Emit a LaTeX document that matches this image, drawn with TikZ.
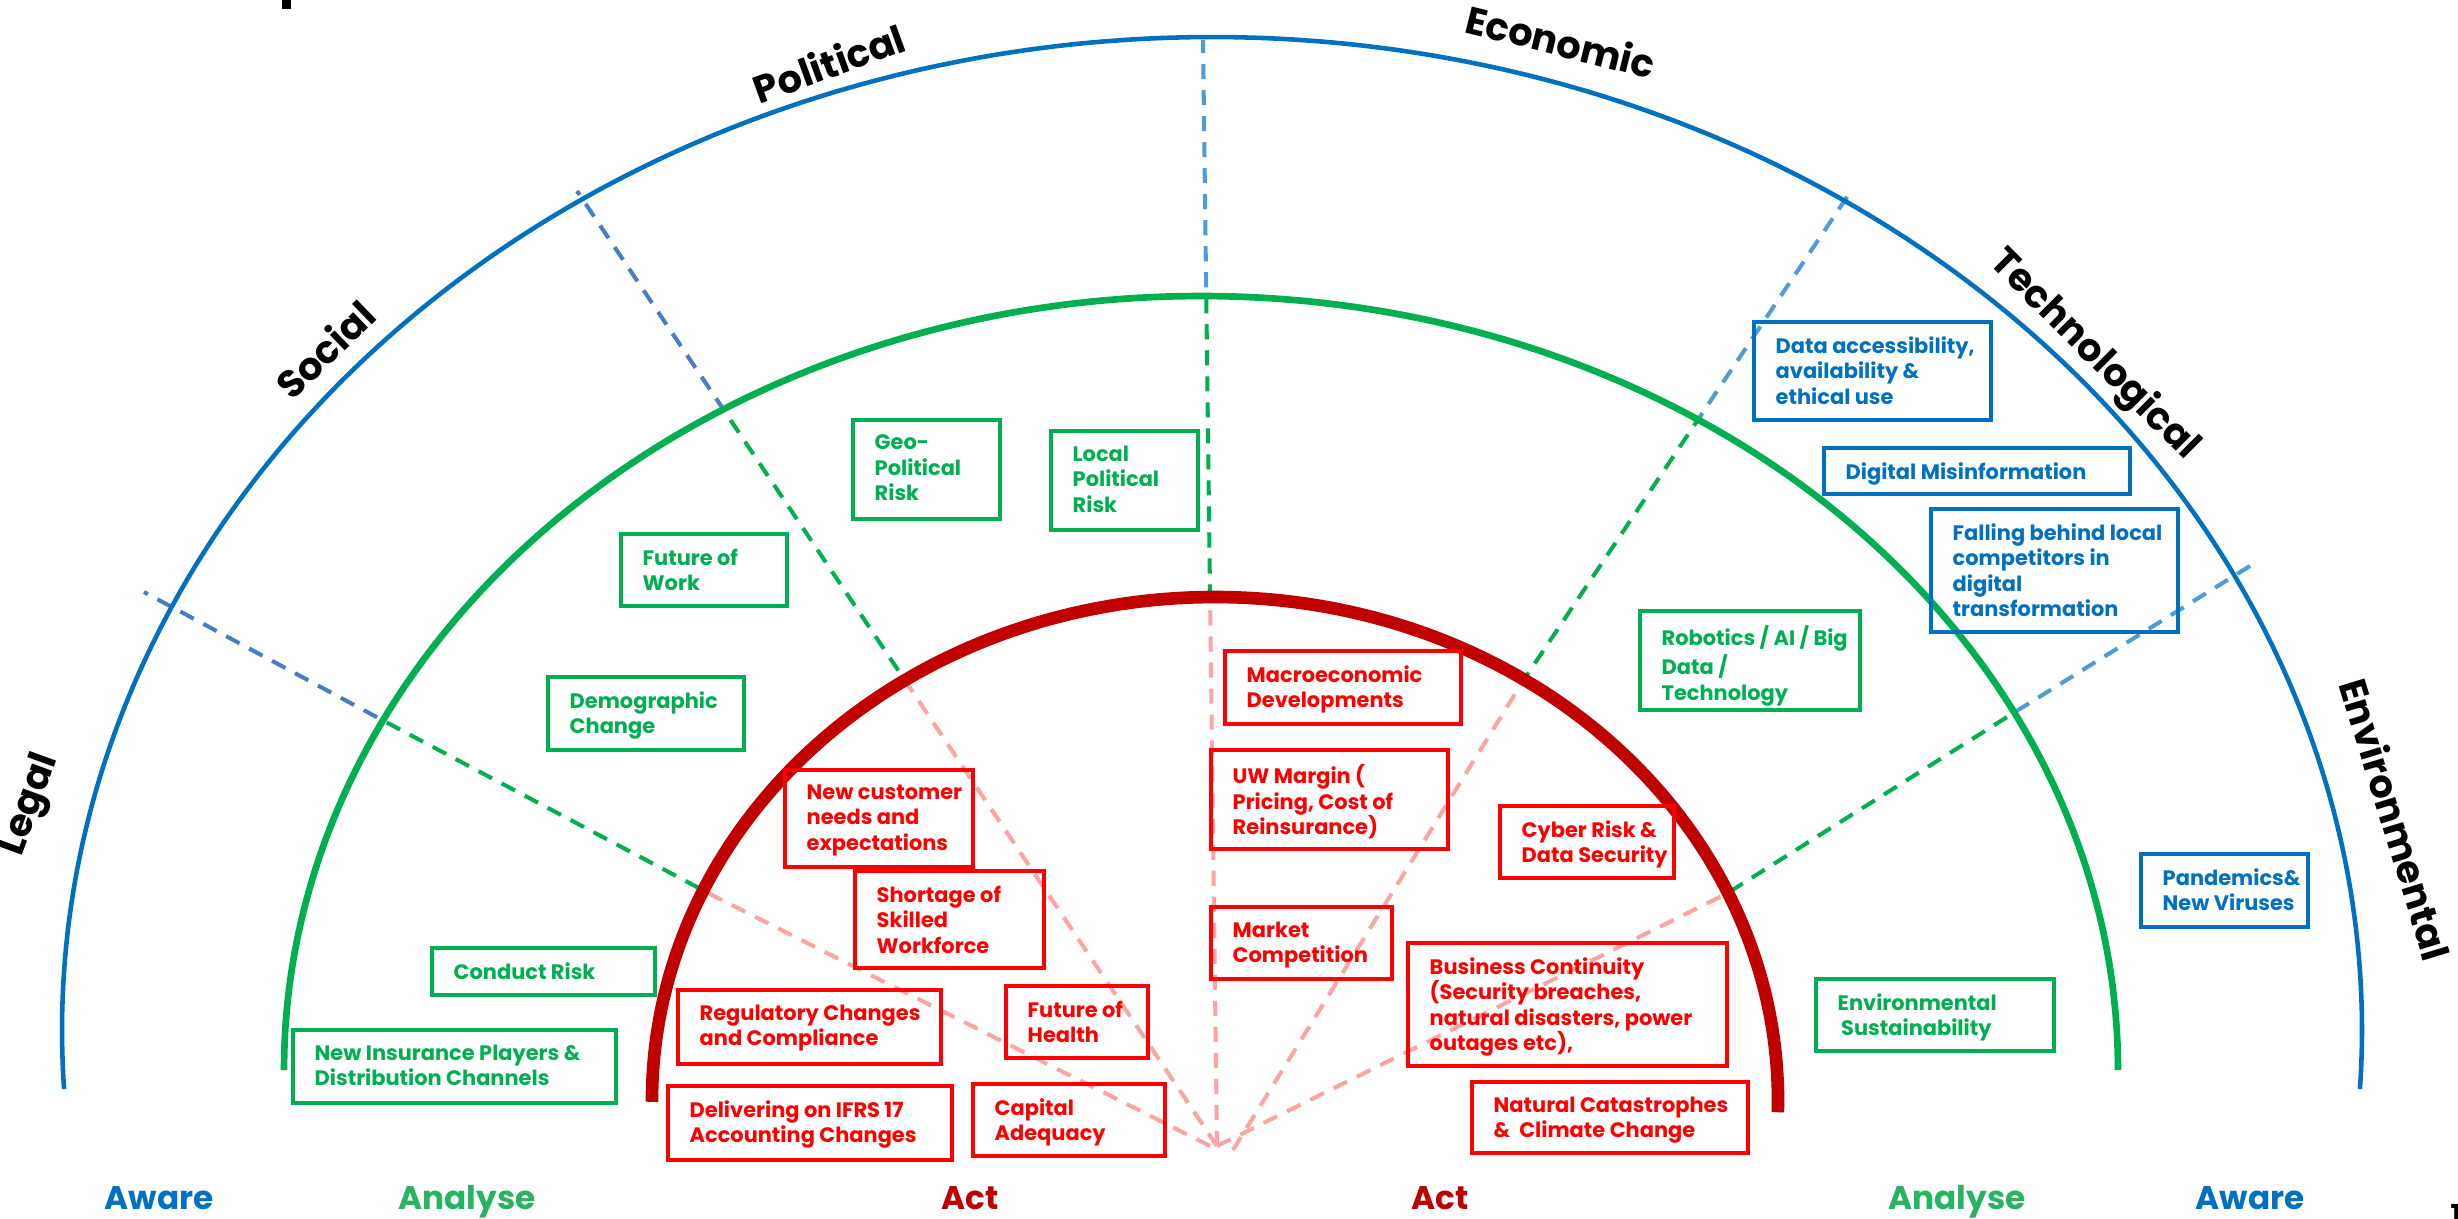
\documentclass[tikz,border=0pt]{standalone}
\usepackage{fontspec}
\setmainfont{Poppins}
\newfontfamily\semibold{Poppins SemiBold}
\newfontfamily\popbold{Poppins Bold}
\definecolor{cblue}{HTML}{0070C0}
\definecolor{cgreen}{HTML}{00B050}
\definecolor{cdred}{HTML}{C00000}
\definecolor{cred}{HTML}{FF0000}
\definecolor{cpink}{HTML}{FFA3A3}
\definecolor{cdashdark}{HTML}{4A7CC0}
\definecolor{cdashlight}{HTML}{4F9AD8}
\definecolor{canalyse}{RGB}{38,180,96}
\tikzset{
  redframe/.style={draw=cred,line width=1.2pt},
  greenframe/.style={draw=cgreen,line width=1.2pt},
  blueframe/.style={draw=cblue,line width=1.2pt},
  boxtext/.style={anchor=north west,inner sep=0pt,align=left,font=\popbold\fontsize{5.95}{7.25}\selectfont},
  redlabel/.style={boxtext,text=cred},
  greenlabel/.style={boxtext,text=cgreen},
  bluelabel/.style={boxtext,text=cblue},
  divider/.style={line width=1.15pt,dash pattern=on 4.3pt off 3.1pt},
  catlabel/.style={inner sep=0pt,font=\popbold\fontsize{10.9}{13}\selectfont,text=black},
  ringlabel/.style={anchor=base,inner sep=0pt,font=\popbold\fontsize{9.3}{11}\selectfont},
}
\newcommand{\riskbox}[7]{%
  \draw[#2frame] (#3,#4) rectangle (#5,#6);
  \node[#2label] (#1) at (#3+21,#4+14) {#7};}
\begin{document}
\begin{tikzpicture}[x=0.01cm,y=-0.01cm]
\useasboundingbox (0,0) rectangle (2458,1218);
% divider points
\coordinate (P1) at (1210,1146); \coordinate (R1) at (712,895); \coordinate (G1) at (384,721); \coordinate (O1) at (144,592);
\coordinate (P2) at (1217,1146); \coordinate (O2) at (577,191);
\coordinate (P3) at (1217,1146); \coordinate (O3) at (1203,40);
\coordinate (P4) at (1233,1150); \coordinate (R4) at (1523,681); \coordinate (O4) at (1849,194);
\coordinate (P5) at (1217,1146); \coordinate (R5) at (1726,894); \coordinate (G5) at (2015,712); \coordinate (O5) at (2258,561);
% blue part of dividers (outside green ring)
\begin{scope}[even odd rule]
\clip (-200,-200) rectangle (2700,1500) plot[domain=0:360,samples=180] ({1201+917*cos(\x)},{1070+774*sin(\x)}) -- cycle;
\draw[divider,cdashdark] (P1) -- (R1) -- (G1) -- (O1);
\draw[divider,cdashdark] (P2) -- (O2);
\draw[divider,cdashlight] (P3) -- (O3);
\draw[divider,cdashlight] (P4) -- (R4) -- (O4);
\draw[divider,cdashlight] (P5) -- (R5) -- (G5) -- (O5);
\end{scope}
% green part (between red and green ring)
\begin{scope}
\clip plot[domain=0:360,samples=180] ({1201+917*cos(\x)},{1070+774*sin(\x)}) -- cycle;
\begin{scope}[even odd rule]
\clip (-200,-200) rectangle (2700,1500) plot[domain=0:360,samples=180] ({1215+563*cos(\x)},{1100+503*sin(\x)}) -- cycle;
\draw[divider,cgreen] (P1) -- (R1) -- (G1) -- (O1);
\draw[divider,cgreen] (P2) -- (O2);
\draw[divider,cgreen] (P3) -- (O3);
\draw[divider,cgreen] (P4) -- (R4) -- (O4);
\draw[divider,cgreen] (P5) -- (R5) -- (G5) -- (O5);
\end{scope}
\end{scope}
% pink part (inside red ring)
\begin{scope}
\clip plot[domain=0:360,samples=180] ({1215+563*cos(\x)},{1100+503*sin(\x)}) -- cycle;
\draw[divider,cpink] (P1) -- (R1) -- (G1) -- (O1);
\draw[divider,cpink] (P2) -- (O2);
\draw[divider,cpink] (P3) -- (O3);
\draw[divider,cpink] (P4) -- (R4) -- (O4);
\draw[divider,cpink] (P5) -- (R5) -- (G5) -- (O5);
\end{scope}
% rings
\draw[cblue,line width=1.3pt] plot[domain=176.6:363.4,samples=300] ({1212+1150*cos(\x)},{1030+993*sin(\x)});
\draw[cgreen,line width=1.9pt] plot[domain=180:360,samples=300] ({1201+917*cos(\x)},{1070+774*sin(\x)});
\draw[cdred,line width=3.6pt] plot[domain=179.8:361.4,samples=300] ({1215+563*cos(\x)},{1100+503*sin(\x)});
% blue boxes
\riskbox{dataacc}{blue}{1754}{322}{1991}{420}{Data accessibility,\\availability \&\\ethical use}
\riskbox{digmis}{blue}{1824}{448}{2130}{494}{Digital Misinformation}
\riskbox{falling}{blue}{1931}{509}{2178}{632}{Falling behind local\\competitors in\\digital\\transformation}
\riskbox{pandemic}{blue}{2141}{854}{2308}{927}{Pandemics\&\\New Viruses}
% green boxes
\riskbox{geopol}{green}{853}{420}{1000}{519}{Geo-\\Political\\Risk}
\riskbox{localpol}{green}{1051}{431}{1198}{530}{Local\\Political\\Risk}
\riskbox{futwork}{green}{621}{534}{787}{606}{Future of\\Work}
\riskbox{demo}{green}{548}{677}{744}{750}{Demographic\\Change}
\riskbox{conduct}{green}{432}{948}{655}{995}{Conduct Risk}
\riskbox{newins}{green}{293}{1030}{616}{1103}{New Insurance Players \&\\Distribution Channels}
\riskbox{robotics}{green}{1640}{611}{1860}{710}{Robotics / AI / Big\\Data /\\Technology}
\riskbox{envsus}{green}{1816}{979}{2054}{1051}{Environmental\\\hspace*{1pt}Sustainability}
% red boxes
\riskbox{macro}{red}{1225}{651}{1461}{724}{Macroeconomic\\Developments}
\riskbox{uwmargin}{red}{1211}{750}{1448}{849}{UW Margin (\\Pricing, Cost of\\Reinsurance)}
\riskbox{market}{red}{1211}{907}{1392}{979}{Market\\Competition}
\riskbox{cyber}{red}{1500}{806}{1674}{878}{Cyber Risk \&\\Data Security}
\riskbox{buscont}{red}{1408}{943}{1727}{1066}{Business Continuity\\(Security breaches,\\natural disasters, power\\outages etc),}
\riskbox{natcat}{red}{1472}{1082}{1748}{1153}{Natural Catastrophes\\\&\ \ Climate Change}
\riskbox{newcust}{red}{785}{770}{973}{867}{New customer\\needs and\\expectations}
\riskbox{shortage}{red}{855}{871}{1044}{968}{Shortage of\\Skilled\\Workforce}
\riskbox{regul}{red}{678}{990}{941}{1064}{Regulatory Changes\\and Compliance}
\riskbox{futhealth}{red}{1006}{986}{1148}{1058}{Future of\\Health}
\riskbox{ifrs}{red}{668}{1086}{952}{1160}{Delivering on IFRS 17\\Accounting Changes}
\riskbox{capital}{red}{973}{1084}{1165}{1156}{Capital\\Adequacy}
% category labels
\node[catlabel,rotate=70] (legal) at (31,805) {Legal};
\node[catlabel,rotate=44] (social) at (325,349) {Social};
\node[catlabel,rotate=20] (political) at (829,63) {Political};
\node[catlabel,rotate=-14] (economic) at (1561,41) {Economic};
\node[catlabel,rotate=-45] (technological) at (2094,355) {Technological};
\node[catlabel,rotate=-73] (environmental) at (2396,819) {Environmental};
% ring labels
\node[ringlabel,text=cblue] (awareL) at (159,1209) {Aware};
\node[ringlabel,text=canalyse] (analyseL) at (467,1209) {Analyse};
\node[ringlabel,text=cdred] (actL) at (970,1209) {Act};
\node[ringlabel,text=cdred] (actR) at (1440,1209) {Act};
\node[ringlabel,text=canalyse] (analyseR) at (1957,1209) {Analyse};
\node[ringlabel,text=cblue] (awareR) at (2250,1209) {Aware};
% cut-off fragments at the edges
\fill[black] (282,0) rectangle (291,9);
\node[anchor=north west,inner sep=0pt,font=\semibold\fontsize{9}{10}\selectfont] (pagenum) at (2450,1204) {1};
\end{tikzpicture}
\end{document}
